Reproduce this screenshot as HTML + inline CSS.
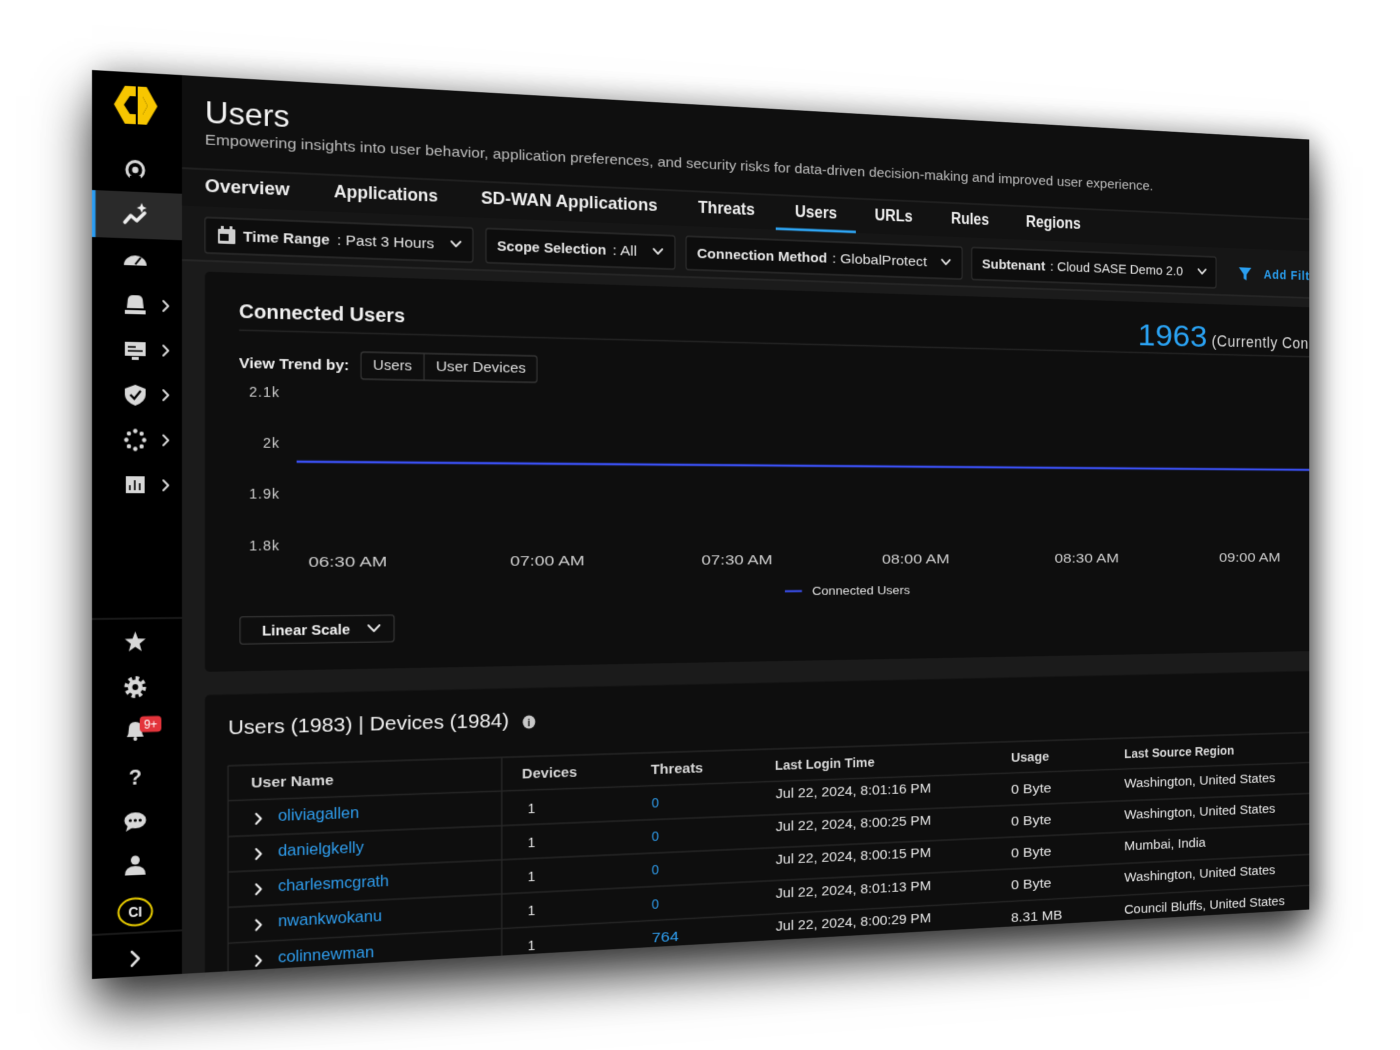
<!DOCTYPE html>
<html><head><meta charset="utf-8"><style>
html,body{margin:0;padding:0;background:#fff;width:1400px;height:1050px;overflow:hidden}
#p{position:absolute;left:0;top:0;width:1437px;height:909px;overflow:hidden;transform-origin:0 0;
transform:matrix3d(1.01156,0.065903,0,0.000125649,0,1,0,0,0,0,1,0,92,70,0,1);
box-shadow:0 30px 50px rgba(0,0,0,.75),8px 0 30px rgba(0,0,0,.3);background:#1b1b1b}
svg{display:block}
</style></head><body>
<div id="p">
<svg xmlns="http://www.w3.org/2000/svg" width="1437" height="909" viewBox="0 0 1437 909" font-family="Liberation Sans, sans-serif">
<rect width="1437" height="909" fill="#1b1b1b"/>
<rect x="91" y="0" width="1346" height="94" fill="#0f0f0f"/>
<rect x="91" y="94" width="1346" height="38" fill="#121212"/>
<rect x="91" y="132" width="1346" height="55" fill="#161616"/>
<line x1="91" y1="94" x2="1437" y2="94" stroke="#262626" stroke-width="1.5"/>
<line x1="91" y1="187" x2="1437" y2="187" stroke="#2b2b2b" stroke-width="1.5"/>

<!-- header -->
<text x="114.6" y="47" font-size="32" fill="#f3f3f3" textLength="88" lengthAdjust="spacingAndGlyphs">Users</text>
<text x="114.6" y="69" font-size="15" fill="#bdbdbd" textLength="1110" lengthAdjust="spacingAndGlyphs">Empowering insights into user behavior, application preferences, and security risks for data-driven decision-making and improved user experience.</text>

<!-- tabs -->
<g font-size="18" font-weight="bold" fill="#efefef">
<text x="114.6" y="117.5" textLength="88" lengthAdjust="spacingAndGlyphs">Overview</text>
<text x="249.6" y="117.5" textLength="112" lengthAdjust="spacingAndGlyphs">Applications</text>
<text x="408.9" y="117.5" textLength="200" lengthAdjust="spacingAndGlyphs">SD-WAN Applications</text>
<text x="656" y="117.5" textLength="67" lengthAdjust="spacingAndGlyphs">Threats</text>
<text x="771" y="117.5" textLength="51" lengthAdjust="spacingAndGlyphs">Users</text>
<text x="868" y="117.5" textLength="47" lengthAdjust="spacingAndGlyphs">URLs</text>
<text x="963" y="117.5" textLength="48" lengthAdjust="spacingAndGlyphs">Rules</text>
<text x="1058" y="117.5" textLength="71" lengthAdjust="spacingAndGlyphs">Regions</text>
</g>
<rect x="748" y="129.5" width="97" height="2.8" fill="#2ea6f5"/>

<!-- filter boxes -->
<g fill="#0d0d0d" stroke="#2e2e2e" stroke-width="1.3">
<rect x="114.6" y="143" width="285.4" height="36" rx="3"/>
<rect x="414.5" y="143" width="214.5" height="36" rx="3"/>
<rect x="642" y="143" width="335" height="36" rx="3"/>
<rect x="989" y="143" width="320" height="36" rx="3"/>
</g>
<g fill="#cfcfcf">
<rect x="128" y="154" width="18" height="15" rx="1"/>
<rect x="131" y="151" width="3" height="4"/><rect x="140" y="151" width="3" height="4"/>
</g>
<rect x="130" y="159" width="9" height="7" fill="#0d0d0d"/>
<g font-size="15" fill="#e6e6e6">
<text x="154" y="166.5" font-weight="bold" textLength="91" lengthAdjust="spacingAndGlyphs">Time Range</text>
<text x="252.8" y="166.5" textLength="104.6" lengthAdjust="spacingAndGlyphs">: Past 3 Hours</text>
<text x="426.7" y="166.5" font-weight="bold" textLength="123" lengthAdjust="spacingAndGlyphs">Scope Selection</text>
<text x="557" y="166.5" textLength="28" lengthAdjust="spacingAndGlyphs">: All</text>
<text x="654.8" y="166.5" font-weight="bold" textLength="155" lengthAdjust="spacingAndGlyphs">Connection Method</text>
<text x="815.9" y="166.5" textLength="117" lengthAdjust="spacingAndGlyphs">: GlobalProtect</text>
<text x="1002" y="166.5" font-weight="bold" textLength="81" lengthAdjust="spacingAndGlyphs">Subtenant</text>
<text x="1089.3" y="166.5" textLength="175" lengthAdjust="spacingAndGlyphs">: Cloud SASE Demo 2.0</text>
</g>
<g fill="none" stroke="#e0e0e0" stroke-width="2" stroke-linecap="round" stroke-linejoin="round">
<polyline points="376.4,158 381.4,163 386.4,158"/>
<polyline points="604.3,158 609.3,163 614.3,158"/>
<polyline points="951.5,158 956.5,163 961.5,158"/>
<polyline points="1285,158 1290,163 1295,158"/>
</g>
<polygon points="1340,154 1357,154 1350.5,162 1350.5,169 1346.5,167 1346.5,162" fill="#2a9ff0"/>
<text x="1374" y="166.5" font-size="15" font-weight="bold" fill="#2a9ff0" letter-spacing="1">Add Filter</text>

<!-- card 1 -->
<rect x="114.6" y="198" width="1400" height="406" rx="5" fill="#0e0e0e"/>
<text x="149.8" y="244" font-size="21" font-weight="bold" fill="#f0f0f0" textLength="176" lengthAdjust="spacingAndGlyphs">Connected Users</text>
<line x1="149.8" y1="256.5" x2="1437" y2="256.5" stroke="#262626" stroke-width="1.3"/>
<text x="1204" y="248" font-size="36" fill="#2aa2f2" textLength="93" lengthAdjust="spacingAndGlyphs">1963</text>
<text x="1303" y="247" font-size="19" fill="#dddddd" letter-spacing="0.7">(Currently Connected Users)</text>

<text x="149.8" y="295" font-size="15" font-weight="bold" fill="#f0f0f0" textLength="116" lengthAdjust="spacingAndGlyphs">View Trend by:</text>
<rect x="278.4" y="276" width="192.9" height="28" rx="3" fill="#0e0e0e" stroke="#363636" stroke-width="1.3"/>
<line x1="346.5" y1="276" x2="346.5" y2="304" stroke="#363636" stroke-width="1.3"/>
<text x="291.3" y="294.5" font-size="15" fill="#dedede" textLength="42" lengthAdjust="spacingAndGlyphs">Users</text>
<text x="359.5" y="294.5" font-size="15" fill="#dedede" textLength="99.5" lengthAdjust="spacingAndGlyphs">User Devices</text>

<g font-size="15" fill="#cfcfcf" text-anchor="end" letter-spacing="1">
<text x="192.6" y="324.4">2.1k</text>
<text x="192.6" y="376.4">2k</text>
<text x="192.6" y="428.4">1.9k</text>
<text x="192.6" y="481">1.8k</text>
</g>
<line x1="210" y1="390" x2="1437" y2="390" stroke="#3a4ff0" stroke-width="2.5"/>
<g font-size="15" fill="#cfcfcf">
<text x="222.5" y="498.4" textLength="84" lengthAdjust="spacingAndGlyphs">06:30 AM</text>
<text x="441.2" y="498.4" textLength="84" lengthAdjust="spacingAndGlyphs">07:00 AM</text>
<text x="660" y="498.4" textLength="84" lengthAdjust="spacingAndGlyphs">07:30 AM</text>
<text x="877" y="498.4" textLength="84" lengthAdjust="spacingAndGlyphs">08:00 AM</text>
<text x="1095" y="498.4" textLength="84" lengthAdjust="spacingAndGlyphs">08:30 AM</text>
<text x="1313" y="498.4" textLength="84" lengthAdjust="spacingAndGlyphs">09:00 AM</text>
</g>
<line x1="759" y1="527.6" x2="779.5" y2="527.6" stroke="#3a4ff0" stroke-width="2.2"/>
<text x="791.7" y="532" font-size="13" fill="#e0e0e0" textLength="120" lengthAdjust="spacingAndGlyphs">Connected Users</text>

<rect x="150.8" y="548.7" width="163.2" height="27.6" rx="3" fill="#0e0e0e" stroke="#363636" stroke-width="1.3"/>
<text x="173.7" y="568" font-size="15" font-weight="bold" fill="#f0f0f0" textLength="93" lengthAdjust="spacingAndGlyphs">Linear Scale</text>
<polyline points="286.3,559 292.3,565 298.3,559" fill="none" stroke="#e6e6e6" stroke-width="2" stroke-linecap="round" stroke-linejoin="round"/>

<!-- card 2 -->
<rect x="114.6" y="627.5" width="1400" height="400" rx="5" fill="#0e0e0e"/>
<text x="138.4" y="667.6" font-size="20" fill="#f0f0f0" textLength="301.6" lengthAdjust="spacingAndGlyphs">Users (1983) | Devices (1984)</text>
<circle cx="462.4" cy="663.5" r="7" fill="#c8c8c8"/>
<text x="462.4" y="668" font-size="11" font-weight="bold" fill="#111" text-anchor="middle">i</text>

<g stroke="#272727" stroke-width="1.5">
<line x1="138.4" y1="700" x2="1437" y2="700"/>
<line x1="138.4" y1="735.5" x2="1437" y2="735.5"/>
<line x1="138.4" y1="772" x2="1437" y2="772"/>
<line x1="138.4" y1="808" x2="1437" y2="808"/>
<line x1="138.4" y1="844" x2="1437" y2="844"/>
<line x1="138.4" y1="880.6" x2="1437" y2="880.6"/>
<line x1="138.4" y1="700" x2="138.4" y2="909"/>
<line x1="432" y1="700" x2="432" y2="909"/>
</g>
<g font-size="15" font-weight="bold" fill="#d8d8d8">
<text x="162.2" y="722.7" textLength="87" lengthAdjust="spacingAndGlyphs">User Name</text>
<text x="454.6" y="722.7" textLength="62" lengthAdjust="spacingAndGlyphs">Devices</text>
<text x="601" y="722.7" textLength="61" lengthAdjust="spacingAndGlyphs">Threats</text>
<text x="747" y="722.7" textLength="121" lengthAdjust="spacingAndGlyphs">Last Login Time</text>
<text x="1039" y="722.7" textLength="49" lengthAdjust="spacingAndGlyphs">Usage</text>
<text x="1186" y="722.7" textLength="147.5" lengthAdjust="spacingAndGlyphs">Last Source Region</text>
</g>

<g fill="none" stroke="#eeeeee" stroke-width="2.2" stroke-linecap="round" stroke-linejoin="round">
<polyline points="167.6,750 172.6,755 167.6,760"/>
<polyline points="167.6,786 172.6,791 167.6,796"/>
<polyline points="167.6,822 172.6,827 167.6,832"/>
<polyline points="167.6,858.5 172.6,863.5 167.6,868.5"/>
<polyline points="167.6,895 172.6,900 167.6,905"/>
</g>
<g font-size="16" fill="#2f9ded">
<text x="190.4" y="757.7" textLength="86" lengthAdjust="spacingAndGlyphs">oliviagallen</text>
<text x="190.4" y="794" textLength="91" lengthAdjust="spacingAndGlyphs">danielgkelly</text>
<text x="190.4" y="830" textLength="118" lengthAdjust="spacingAndGlyphs">charlesmcgrath</text>
<text x="190.4" y="866.3" textLength="110.6" lengthAdjust="spacingAndGlyphs">nwankwokanu</text>
<text x="190.4" y="902.7" textLength="102" lengthAdjust="spacingAndGlyphs">colinnewman</text>
</g>
<g font-size="15" fill="#e8e8e8">
<text x="461" y="759.7">1</text>
<text x="461" y="796">1</text>
<text x="461" y="832">1</text>
<text x="461" y="868.3">1</text>
<text x="461" y="904.7">1</text>
</g>
<g font-size="15" fill="#2f9ded">
<text x="602" y="759.2">0</text>
<text x="602" y="795.5">0</text>
<text x="602" y="831.5">0</text>
<text x="602" y="867.8">0</text>
<text x="602" y="904.2" textLength="31.6" lengthAdjust="spacingAndGlyphs">764</text>
</g>
<g font-size="15" fill="#e8e8e8">
<text x="748" y="754.2" textLength="190" lengthAdjust="spacingAndGlyphs">Jul 22, 2024, 8:01:16 PM</text>
<text x="748" y="790.5" textLength="190" lengthAdjust="spacingAndGlyphs">Jul 22, 2024, 8:00:25 PM</text>
<text x="748" y="826.5" textLength="190" lengthAdjust="spacingAndGlyphs">Jul 22, 2024, 8:00:15 PM</text>
<text x="748" y="862.8" textLength="190" lengthAdjust="spacingAndGlyphs">Jul 22, 2024, 8:01:13 PM</text>
<text x="748" y="899.2" textLength="190" lengthAdjust="spacingAndGlyphs">Jul 22, 2024, 8:00:29 PM</text>
<text x="1039" y="758.7" textLength="52" lengthAdjust="spacingAndGlyphs">0 Byte</text>
<text x="1039" y="795" textLength="52" lengthAdjust="spacingAndGlyphs">0 Byte</text>
<text x="1039" y="831" textLength="52" lengthAdjust="spacingAndGlyphs">0 Byte</text>
<text x="1039" y="867.3" textLength="52" lengthAdjust="spacingAndGlyphs">0 Byte</text>
<text x="1039" y="903.7" textLength="66" lengthAdjust="spacingAndGlyphs">8.31 MB</text>
<text x="1186" y="756.7" textLength="204" lengthAdjust="spacingAndGlyphs">Washington, United States</text>
<text x="1186" y="793" textLength="204" lengthAdjust="spacingAndGlyphs">Washington, United States</text>
<text x="1186" y="829" textLength="109" lengthAdjust="spacingAndGlyphs">Mumbai, India</text>
<text x="1186" y="865.3" textLength="204" lengthAdjust="spacingAndGlyphs">Washington, United States</text>
<text x="1186" y="901.7" textLength="217" lengthAdjust="spacingAndGlyphs">Council Bluffs, United States</text>
</g>

<!-- sidebar -->
<rect x="0" y="0" width="91" height="909" fill="#000"/>
<path d="M33,14 L44,14 L44,24 L38,24 L32,33 L38,42 L44,42 L44,52 L33,52 L22,33 Z" fill="#f7c600"/>
<path d="M46,14 L55,14 L66,33 L55,52 L46,52 L46,42 L51,42 L56,33 L51,24 L46,24 Z" fill="#f7c600"/>
<path d="M46,24 L51,24 L56,33 L51,42 L46,42 Z" fill="#f7c600"/>

<circle cx="43.5" cy="98" r="8.5" fill="none" stroke="#d8d8d8" stroke-width="3"/>
<rect x="38" y="104" width="11" height="5" fill="#000"/>
<circle cx="43.5" cy="98" r="3.2" fill="#d8d8d8"/>

<rect x="0" y="120" width="91" height="47" fill="#2a2a2a"/>
<rect x="0" y="120" width="3.5" height="47" fill="#2a9df4"/>
<polyline points="33,151 39,144 45,149 53,141" stroke="#eeeeee" stroke-width="3.5" fill="none" stroke-linejoin="round" stroke-linecap="round"/>
<path d="M50,131 l1.5,3.5 3.5,1.5 -3.5,1.5 -1.5,3.5 -1.5,-3.5 -3.5,-1.5 3.5,-1.5z" fill="#eeeeee"/>

<path d="M32,194 A11.5,10 0 0 1 55,194 Z" fill="#d8d8d8"/>
<line x1="43.5" y1="193" x2="49" y2="186" stroke="#000" stroke-width="2"/>

<g fill="#d8d8d8">
<path d="M35,237 L36,228 Q37,224 41,224 L46,224 Q50,224 51,228 L52,237 Z"/>
<rect x="33" y="239" width="21" height="4"/>
<rect x="33" y="271" width="21" height="14"/>
<rect x="40" y="286" width="7" height="3"/>
<path d="M43.5,314 L54,318 L54,324 Q54,331 43.5,335 Q33,331 33,324 L33,318 Z"/>
<rect x="34" y="406" width="19" height="17"/>
</g>
<g stroke="#000" stroke-width="1.6">
<line x1="36" y1="276" x2="44" y2="276"/><line x1="36" y1="280" x2="51" y2="280"/>
<line x1="38" y1="420" x2="38" y2="415"/><line x1="43" y1="420" x2="43" y2="410"/><line x1="48" y1="420" x2="48" y2="413"/>
</g>
<polyline points="38.5,324 42.5,328 49,320" stroke="#000" stroke-width="2.2" fill="none"/>
<g fill="#d8d8d8">
<circle cx="52.5" cy="369.5" r="2.2"/><circle cx="49.9" cy="375.9" r="2.2"/><circle cx="43.5" cy="378.5" r="2.2"/><circle cx="37.1" cy="375.9" r="2.2"/>
<circle cx="34.5" cy="369.5" r="2.2"/><circle cx="37.1" cy="363.1" r="2.2"/><circle cx="43.5" cy="360.5" r="2.2"/><circle cx="49.9" cy="363.1" r="2.2"/>
</g>
<g fill="none" stroke="#d8d8d8" stroke-width="2" stroke-linecap="round" stroke-linejoin="round">
<polyline points="72,229 77,234 72,239"/>
<polyline points="72,274 77,279 72,284"/>
<polyline points="72,319 77,324 72,329"/>
<polyline points="72,364.5 77,369.5 72,374.5"/>
<polyline points="72,410 77,415 72,420"/>
</g>

<line x1="0" y1="549" x2="91" y2="549" stroke="#222" stroke-width="1.5"/>
<line x1="0" y1="865" x2="91" y2="865" stroke="#222" stroke-width="1.5"/>

<polygon points="43.5,562 46.2,569.3 54,569.6 47.9,574.4 50,581.9 43.5,577.6 37,581.9 39.1,574.4 33,569.6 40.8,569.3" fill="#d8d8d8"/>
<circle cx="43.5" cy="618" r="9" fill="none" stroke="#d8d8d8" stroke-width="4" stroke-dasharray="3.6 3.46"/>
<circle cx="43.5" cy="618" r="7.5" fill="#d8d8d8"/>
<circle cx="43.5" cy="618" r="3" fill="#000"/>
<path d="M35,668 Q37,665 37,660 Q37,653 43.5,653 Q50,653 50,660 Q50,665 52,668 Z" fill="#d8d8d8"/>
<circle cx="43.5" cy="670" r="2" fill="#d8d8d8"/>
<rect x="48" y="647.5" width="22" height="16" rx="4" fill="#e3343b"/>
<text x="59" y="660" font-size="12" fill="#fff" text-anchor="middle">9+</text>
<text x="43.5" y="716" font-size="22" font-weight="bold" fill="#d8d8d8" text-anchor="middle">?</text>
<ellipse cx="43.5" cy="752" rx="11" ry="8" fill="#d8d8d8"/>
<path d="M36,757 L34,763 L41,759 Z" fill="#d8d8d8"/>
<circle cx="38.5" cy="752" r="1.6" fill="#000"/><circle cx="43.5" cy="752" r="1.6" fill="#000"/><circle cx="48.5" cy="752" r="1.6" fill="#000"/>
<circle cx="43.5" cy="792" r="4.5" fill="#d8d8d8"/>
<path d="M33,807 Q33,798 43.5,798 Q54,798 54,807 Z" fill="#d8d8d8"/>
<ellipse cx="43.5" cy="844" rx="17" ry="13.5" fill="none" stroke="#e8cc00" stroke-width="2"/>
<text x="43.5" y="849" font-size="14" font-weight="bold" fill="#f2f2f2" text-anchor="middle">CI</text>
<polyline points="40,884 47,891 40,898" fill="none" stroke="#dddddd" stroke-width="2.5" stroke-linecap="round" stroke-linejoin="round"/>
</svg>
</div>
</body></html>
